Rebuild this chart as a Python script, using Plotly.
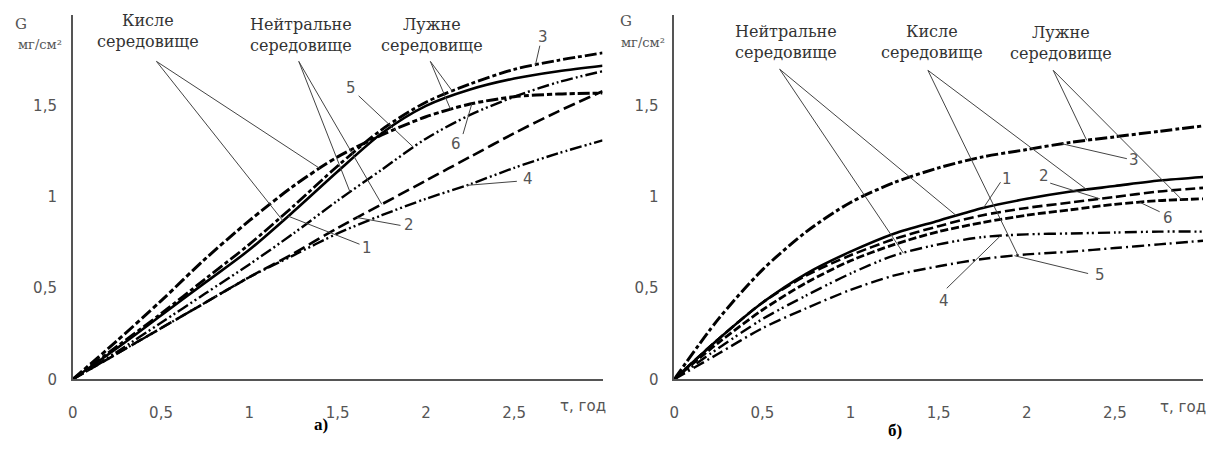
import numpy as np
import plotly.graph_objects as go

# ---------------- data ----------------
t = [0.0, 0.25, 0.5, 0.75, 1.0, 1.25, 1.5, 1.75, 2.0, 2.25, 2.5, 2.75, 3.0]

# panel а)
a_curve1 = [0, 0.17, 0.35, 0.53, 0.71, 0.92, 1.14, 1.35, 1.50, 1.59, 1.65, 1.69, 1.72]
a_curve2 = [0, 0.14, 0.28, 0.42, 0.56, 0.69, 0.83, 0.96, 1.09, 1.22, 1.35, 1.47, 1.58]
a_curve3 = [0, 0.18, 0.36, 0.55, 0.74, 0.95, 1.17, 1.37, 1.52, 1.62, 1.70, 1.75, 1.79]
a_curve4 = [0, 0.14, 0.28, 0.42, 0.56, 0.68, 0.80, 0.90, 0.99, 1.07, 1.16, 1.24, 1.31]
a_curve5 = [0, 0.15, 0.31, 0.47, 0.63, 0.80, 0.98, 1.15, 1.32, 1.45, 1.55, 1.63, 1.69]
a_curve6 = [0, 0.21, 0.43, 0.66, 0.87, 1.06, 1.22, 1.34, 1.44, 1.51, 1.55, 1.565, 1.57]

# panel б)
b_curve1 = [0, 0.22, 0.42, 0.58, 0.70, 0.80, 0.87, 0.94, 0.99, 1.03, 1.06, 1.09, 1.11]
b_curve2 = [0, 0.22, 0.42, 0.57, 0.68, 0.77, 0.84, 0.90, 0.94, 0.97, 1.00, 1.03, 1.05]
b_curve3 = [0, 0.33, 0.60, 0.81, 0.97, 1.08, 1.16, 1.22, 1.26, 1.30, 1.33, 1.36, 1.39]
b_curve4 = [0, 0.17, 0.33, 0.46, 0.58, 0.68, 0.74, 0.78, 0.795, 0.80, 0.805, 0.81, 0.81]
b_curve5 = [0, 0.14, 0.28, 0.39, 0.49, 0.57, 0.62, 0.66, 0.685, 0.70, 0.72, 0.74, 0.76]
b_curve6 = [0, 0.20, 0.38, 0.53, 0.65, 0.74, 0.81, 0.86, 0.90, 0.93, 0.96, 0.98, 0.99]

x_tickvals = [0, 0.5, 1, 1.5, 2, 2.5]
x_ticktext = ["0", "0,5", "1", "1,5", "2", "2,5"]
y_tickvals = [0, 0.5, 1, 1.5]
y_ticktext = ["0", "0,5", "1", "1,5"]
x_title = "τ, год"
y_title = "G"
y_unit = "мг/см²"
panel_titles = ["а)", "б)"]
curve_ids = ["1", "2", "3", "4", "5", "6"]

# ---------------- styles / placement ----------------
W, H = 1213, 450
AX = "#555555"
GRAY = "#555555"
SANS = "DejaVu Sans"
SERIF = "DejaVu Serif"

def px_x(p):
    return p / W

def px_y(p):
    return 1 - p / H

a_styles = {
    "1": dict(width=2.6, dash="solid"),
    "2": dict(width=2.6, dash="12px,5px"),
    "3": dict(width=2.8, dash="12px,3px,4px,3px"),
    "4": dict(width=2.4, dash="12px,3px,2px,3px,2px,3px"),
    "5": dict(width=2.4, dash="12px,3px,2px,3px,2px,3px"),
    "6": dict(width=3.0, dash="12px,3px,5px,3px"),
}
b_styles = {
    "1": dict(width=2.6, dash="solid"),
    "2": dict(width=2.6, dash="10px,4px"),
    "3": dict(width=3.0, dash="12px,3px,4px,3px"),
    "4": dict(width=2.4, dash="12px,4px,2px,3px,2px,4px"),
    "5": dict(width=2.4, dash="12px,4px,2px,4px"),
    "6": dict(width=2.8, dash="8px,3px"),
}

panels = [
    dict(
        xa="x", ya="y", xdom=[68 / W, 600 / W],
        curves=dict(zip(curve_ids, [a_curve1, a_curve2, a_curve3, a_curve4, a_curve5, a_curve6])),
        styles=a_styles,
        groups=[("Кисле<br>середовище", 0.429, 1.908), ("Нейтральне<br>середовище", 1.294, 1.889),
                ("Лужне<br>середовище", 2.036, 1.889)],
        numbers=[("3", 2.662, 1.879), ("5", 1.574, 1.598), ("6", 2.171, 1.291),
                 ("4", 2.578, 1.097), ("2", 1.906, 0.849), ("1", 1.664, 0.720)],
        # (curve, t on curve, tail t, tail G)
        leaders=[("6", 1.40, 0.474, 1.744), ("1", 1.19, 0.474, 1.744),
                 ("5", 1.57, 1.28, 1.744), ("2", 1.75, 1.28, 1.744),
                 ("3", 2.15, 2.025, 1.744), ("6", 2.14, 2.025, 1.744),
                 ("3", 2.62, 2.645, 1.83), ("5", 1.93, 1.619, 1.555),
                 ("6", 2.26, 2.21, 1.345), ("4", 2.23, 2.515, 1.086),
                 ("2", 1.61, 1.856, 0.844), ("1", 1.22, 1.624, 0.741)],
        G=(16, 24), unit=(35, 45), xt=(580, 414), title=(317, 433),
        ox="x3", ix="x4", oy="y3",
    ),
    dict(
        xa="x2", ya="y2", xdom=[672 / W, 1203 / W],
        curves=dict(zip(curve_ids, [b_curve1, b_curve2, b_curve3, b_curve4, b_curve5, b_curve6])),
        styles=b_styles,
        groups=[("Нейтральне<br>середовище", 0.632, 1.852), ("Кисле<br>середовище", 1.462, 1.852),
                ("Лужне<br>середовище", 2.195, 1.846)],
        numbers=[("1", 1.885, 1.097), ("2", 2.099, 1.113), ("3", 2.607, 1.205),
                 ("6", 2.799, 0.887), ("4", 1.529, 0.429), ("5", 2.415, 0.574)],
        leaders=[("1", 1.60, 0.598, 1.701), ("4", 1.30, 0.598, 1.701),
                 ("1", 2.34, 1.439, 1.695), ("5", 1.95, 1.439, 1.695),
                 ("3", 2.34, 2.15, 1.695), ("6", 2.88, 2.15, 1.695),
                 ("1", 1.755, 1.851, 1.081), ("2", 2.415, 2.133, 1.076),
                 ("3", 2.20, 2.568, 1.21), ("6", 2.64, 2.754, 0.919),
                 ("4", 1.85, 1.546, 0.499), ("5", 1.93, 2.348, 0.580)],
        G=(624, 21), unit=(641, 43), xt=(1183, 415), title=(894, 439),
        ox="x5", ix="x6", oy="y4",
    ),
]

ydom = [(H - 387) / H, (H - 15) / H]

fig = go.Figure()
annotations = []
layout_axes = {}

def ann(**kw):
    d = dict(showarrow=False, xanchor="center", yanchor="middle")
    d.update(kw)
    annotations.append(d)

for i, p in enumerate(panels):
    for cid in curve_ids:
        st = p["styles"][cid]
        fig.add_trace(go.Scatter(
            x=t, y=p["curves"][cid], mode="lines",
            line=dict(color="black", width=st["width"], dash=st["dash"], shape="spline", smoothing=0.8),
            xaxis=p["xa"], yaxis=p["ya"], hoverinfo="skip", showlegend=False,
        ))
    lx, ly = [], []
    for cid, th, tx, ty in p["leaders"]:
        gh = float(np.interp(th, t, p["curves"][cid]))
        lx += [tx, th, None]
        ly += [ty, gh, None]
    fig.add_trace(go.Scatter(
        x=lx, y=ly, mode="lines", line=dict(color="#444444", width=1),
        xaxis=p["xa"], yaxis=p["ya"], hoverinfo="skip", showlegend=False,
    ))

    for txt, gx, gy in p["groups"]:
        ann(text=txt, x=gx, y=gy, xref=p["xa"], yref=p["ya"],
            font=dict(family=SERIF, size=16, color="#333333"), align="center")
    for txt, nx, ny in p["numbers"]:
        ann(text=txt, x=nx, y=ny, xref=p["xa"], yref=p["ya"],
            font=dict(family=SANS, size=15, color=GRAY))
    ann(text=y_title, x=px_x(p["G"][0]), y=px_y(p["G"][1]), xref="paper", yref="paper",
        font=dict(family=SERIF, size=15, color=GRAY))
    ann(text=y_unit, x=px_x(p["unit"][0]), y=px_y(p["unit"][1]), xref="paper", yref="paper",
        font=dict(family=SERIF, size=13, color=GRAY))
    ann(text=x_title, x=px_x(p["xt"][0]), y=px_y(p["xt"][1]), xref="paper", yref="paper",
        font=dict(family=SANS, size=15, color=GRAY))
    ann(text="<b>" + panel_titles[i] + "</b>", x=px_x(p["title"][0]), y=px_y(p["title"][1]),
        xref="paper", yref="paper", font=dict(family="Liberation Serif", size=17, color="black"))

    xkey = "xaxis" if p["xa"] == "x" else "xaxis" + p["xa"][1:]
    ykey = "yaxis" if p["ya"] == "y" else "yaxis" + p["ya"][1:]
    layout_axes[xkey] = dict(
        domain=p["xdom"], anchor=p["ya"], range=[0, 3], showline=True, linecolor=AX, linewidth=1.5,
        ticks="", tickmode="array", tickvals=x_tickvals, ticktext=x_ticktext,
        tickfont=dict(family=SANS, size=15, color=GRAY), ticklabelstandoff=19,
        showgrid=False, zeroline=False, fixedrange=True,
    )
    layout_axes[ykey] = dict(
        domain=ydom, anchor=p["xa"], range=[0, 2], showline=True, linecolor=AX, linewidth=1.5,
        ticks="", tickmode="array", tickvals=y_tickvals, ticktext=y_ticktext,
        tickfont=dict(family=SANS, size=15, color=GRAY), ticklabelstandoff=11,
        showgrid=False, zeroline=False, fixedrange=True,
    )
    for okey, side in ((p["ox"], "outside"), (p["ix"], "inside")):
        layout_axes["xaxis" + okey[1:]] = dict(
            overlaying=p["xa"], anchor=p["ya"], domain=p["xdom"], range=[0, 3], showline=False,
            ticks=side, ticklen=9, tickwidth=1.5, tickcolor=AX, tickmode="array", tickvals=x_tickvals[1:],
            showticklabels=False, showgrid=False, zeroline=False, fixedrange=True,
        )
    layout_axes["yaxis" + p["oy"][1:]] = dict(
        overlaying=p["ya"], anchor=p["xa"], domain=ydom, range=[0, 2], showline=False, side="left",
        ticks="outside", ticklen=8, tickwidth=1.5, tickcolor=AX, tickmode="array", tickvals=y_tickvals[1:],
        showticklabels=False, showgrid=False, zeroline=False, fixedrange=True,
    )

fig.update_layout(
    width=W, height=H, margin=dict(l=0, r=0, t=0, b=0),
    paper_bgcolor="white", plot_bgcolor="white", showlegend=False,
    annotations=annotations, **layout_axes,
)

fig.write_html("out.html", config={"displayModeBar": False},
               post_script="document.body.style.margin='0';")
